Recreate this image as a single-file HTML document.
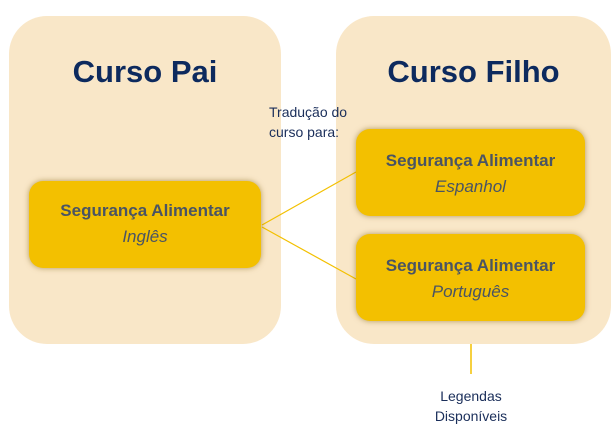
<!DOCTYPE html>
<html><head><meta charset="utf-8"><style>
body{margin:0;width:615px;height:434px;background:#fff;position:relative;overflow:hidden;font-family:"Liberation Sans",sans-serif}
.p{position:absolute;background:#f9e7c8;border-radius:38px}
.t{position:absolute;color:#0d2a5e;font-weight:bold;font-size:31px;text-align:center}
.b{position:absolute;background:#f3c000;border-radius:14px;box-shadow:0 0 6px rgba(120,90,0,.55);text-align:center;color:#4a5463;font-size:17px;line-height:26px;box-sizing:border-box;padding-top:17px}
.b b{display:block}
.b i{display:block}
.s{position:absolute;color:#1a2e5a;font-size:14px;line-height:20px}
</style></head><body>
<div class="p" style="left:9px;top:16px;width:272px;height:328px"></div>
<div class="p" style="left:336px;top:16px;width:275px;height:328px"></div>
<div class="t" style="left:9px;top:54px;width:272px">Curso Pai</div>
<div class="t" style="left:336px;top:54px;width:275px">Curso Filho</div>
<svg style="position:absolute;left:0;top:0" width="615" height="434">
<line x1="262" y1="225" x2="356" y2="172" stroke="#f3c000" stroke-width="1.2"/>
<line x1="262" y1="227" x2="356" y2="279" stroke="#f3c000" stroke-width="1.2"/>
<line x1="471" y1="344" x2="471" y2="374" stroke="#f3c000" stroke-width="1.5"/>
</svg>
<div class="b" style="left:29px;top:181px;width:232px;height:87px"><b>Segurança Alimentar</b><i>Inglês</i></div>
<div class="b" style="left:356px;top:129px;width:229px;height:87px;padding-top:19px"><b>Segurança Alimentar</b><i>Espanhol</i></div>
<div class="b" style="left:356px;top:234px;width:229px;height:87px;padding-top:19px"><b>Segurança Alimentar</b><i>Português</i></div>
<div class="s" style="left:269px;top:102px">Tradução do<br>curso para:</div>
<div class="s" style="left:411px;top:386px;width:120px;text-align:center">Legendas<br>Disponíveis</div>
</body></html>
